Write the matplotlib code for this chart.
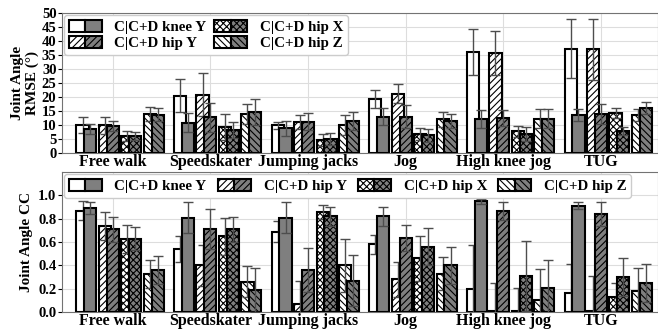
import numpy as np
import matplotlib
matplotlib.use('Agg')
import matplotlib.pyplot as plt
from matplotlib.patches import Patch
from matplotlib.legend_handler import HandlerTuple

plt.rcParams['font.family'] = 'Liberation Serif'
plt.rcParams['font.weight'] = 'bold'
plt.rcParams['hatch.linewidth'] = 0.8

activities = ['Free walk', 'Speedskater', 'Jumping jacks', 'Jog', 'High knee jog', 'TUG']
joints = ['knee Y', 'hip Y', 'hip X', 'hip Z']

# rows = joints (knee Y, hip Y, hip X, hip Z), cols = activities
rmse_c = np.array([
    [10.0, 20.5, 9.9, 19.2, 36.1, 37.3],
    [9.9, 20.8, 11.1, 21.2, 35.6, 37.0],
    [6.1, 9.3, 4.6, 6.7, 7.7, 14.2],
    [13.9, 13.9, 10.0, 12.0, 12.3, 13.5],
])
rmse_c_err = np.array([
    [2.8, 5.8, 1.3, 3.3, 8.3, 10.4],
    [3.1, 7.6, 2.6, 3.3, 7.9, 11.0],
    [1.8, 4.5, 2.1, 2.1, 1.9, 1.7],
    [2.4, 3.7, 3.6, 2.6, 3.4, 2.2],
])
rmse_cd = np.array([
    [8.6, 10.8, 8.9, 13.0, 12.1, 13.6],
    [9.8, 12.7, 11.2, 13.0, 12.5, 13.9],
    [6.0, 8.2, 4.9, 6.3, 6.8, 7.9],
    [13.7, 14.6, 11.5, 11.4, 12.3, 16.1],
])
rmse_cd_err = np.array([
    [1.8, 3.4, 2.7, 3.0, 3.3, 2.1],
    [1.8, 5.3, 3.0, 4.1, 2.9, 3.6],
    [1.4, 3.0, 2.1, 2.2, 2.4, 1.5],
    [2.3, 4.6, 3.3, 2.4, 3.4, 2.1],
])

cc_c = np.array([
    [0.87, 0.54, 0.69, 0.58, 0.195, 0.16],
    [0.74, 0.40, 0.07, 0.28, 0.01, 0.005],
    [0.63, 0.65, 0.855, 0.46, 0.005, 0.13],
    [0.33, 0.26, 0.40, 0.33, 0.10, 0.18],
])
cc_c_err = np.array([
    [0.08, 0.11, 0.09, 0.08, 0.38, 0.25],
    [0.12, 0.175, 0.20, 0.15, 0.24, 0.30],
    [0.12, 0.16, 0.06, 0.19, 0.20, 0.12],
    [0.12, 0.135, 0.23, 0.14, 0.27, 0.20],
])
cc_cd = np.array([
    [0.89, 0.81, 0.81, 0.82, 0.95, 0.91],
    [0.71, 0.71, 0.36, 0.635, 0.865, 0.84],
    [0.63, 0.71, 0.82, 0.56, 0.31, 0.30],
    [0.36, 0.19, 0.27, 0.40, 0.21, 0.25],
])
cc_cd_err = np.array([
    [0.05, 0.13, 0.135, 0.08, 0.02, 0.03],
    [0.106, 0.17, 0.19, 0.115, 0.08, 0.10],
    [0.10, 0.106, 0.08, 0.16, 0.30, 0.16],
    [0.12, 0.186, 0.22, 0.16, 0.24, 0.16],
])

hatches = ['', '/////', 'xxxxx', '\\\\\\\\\\']
pair_offsets = [-0.27, -0.04, 0.19, 0.42]
shift = 0.04
width = 0.125
gray = '#7f7f7f'


def draw_panel(ax, c_vals, c_err, cd_vals, cd_err):
    x = np.arange(len(activities))
    for j in range(len(joints)):
        xc = x + pair_offsets[j] - shift
        xd = x + pair_offsets[j] + shift
        ax.bar(xc, c_vals[j], width, color='white', edgecolor='black',
               hatch=hatches[j], linewidth=1.5, zorder=2 + 2 * j)
        ax.errorbar(xc, c_vals[j], yerr=c_err[j], fmt='none', ecolor='0.3',
                    elinewidth=1, capsize=3.5, zorder=2.5 + 2 * j)
        ax.bar(xd, cd_vals[j], width, color=gray, edgecolor='black',
               hatch=hatches[j], linewidth=1.5, zorder=3 + 2 * j)
        ax.errorbar(xd, cd_vals[j], yerr=cd_err[j], fmt='none', ecolor='0.3',
                    elinewidth=1, capsize=3.5, zorder=3.5 + 2 * j)
    ax.set_xticks(x)
    ax.set_xticklabels(activities, fontsize=11.5, fontweight='bold')
    ax.set_xlim(-0.52, 5.585)
    ax.grid(True, color='#dddddd', linewidth=0.8, zorder=0)
    ax.set_axisbelow(True)
    ax.tick_params(axis='x', length=0, pad=1)
    ax.tick_params(axis='y', length=3, pad=1, labelsize=10.5)
    for lab in ax.get_yticklabels():
        lab.set_fontweight('bold')
    for s in ax.spines.values():
        s.set_color('0.45')


def legend_handles():
    hs = []
    for j in range(len(joints)):
        hs.append((Patch(facecolor='white', edgecolor='black', hatch=hatches[j], linewidth=1.5),
                   Patch(facecolor=gray, edgecolor='black', hatch=hatches[j], linewidth=1.5)))
    return hs


fig = plt.figure(figsize=(6.58, 3.30), dpi=100)
ax1 = fig.add_axes([62 / 658, 177 / 330, 596 / 658, 140 / 330])
ax2 = fig.add_axes([62 / 658, 18 / 330, 596 / 658, 140 / 330])

draw_panel(ax1, rmse_c, rmse_c_err, rmse_cd, rmse_cd_err)
ax1.set_ylim(0, 50)
ax1.set_yticks(np.arange(0, 51, 5))
ax1.set_ylabel('Joint Angle\nRMSE (°)', fontsize=11, fontweight='bold', labelpad=2, linespacing=1.1)

draw_panel(ax2, cc_c, cc_c_err, cc_cd, cc_cd_err)
ax2.set_ylim(0, 1.2)
ax2.set_yticks([0.0, 0.2, 0.4, 0.6, 0.8, 1.0])
ax2.set_yticklabels(['0.0', '0.2', '0.4', '0.6', '0.8', '1.0'])
for lab in ax2.get_yticklabels():
    lab.set_fontweight('bold')
ax2.set_ylabel('Joint Angle CC', fontsize=11, fontweight='bold', labelpad=4)

labels = ['C|C+D ' + j for j in joints]
handles = legend_handles()
leg_kw = dict(loc='upper left', fontsize=10.8,
              handler_map={tuple: HandlerTuple(ndivide=None, pad=0)},
              handlelength=2.2, handleheight=0.9, handletextpad=0.85,
              borderpad=0.3, borderaxespad=0.15, framealpha=1.0, edgecolor='#cccccc')
ax1.legend(handles, labels, ncol=2, labelspacing=0.12, columnspacing=0.5, **leg_kw)
ax2.legend(handles, labels, ncol=4, columnspacing=0.75, **leg_kw)

fig.savefig('out.png', dpi=100)
